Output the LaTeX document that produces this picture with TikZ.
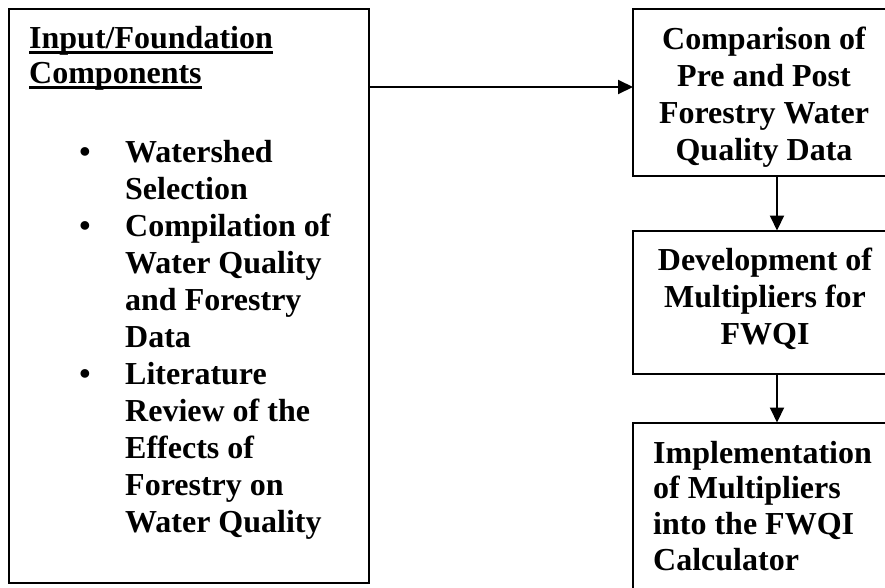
\documentclass[tikz,border=0pt]{standalone}
\usepackage{fontspec}
\setmainfont{Liberation Serif}
\usetikzlibrary{arrows.meta}
\begin{document}
\begin{tikzpicture}[x=1pt,y=-1pt,
  box/.style={draw,line width=2pt,inner sep=0pt,outer sep=0pt,anchor=north west},
  txt/.style={inner sep=0pt,anchor=base west,font=\bfseries\fontsize{32}{37}\selectfont},
  ctxt/.style={inner sep=0pt,anchor=base,font=\bfseries\fontsize{32}{37.3}\selectfont},
  bul/.style={inner sep=0pt,anchor=base,font=\bfseries\fontsize{32}{37}\selectfont},
  uline/.style={line width=2.2pt},
  link/.style={line width=2pt,-{Triangle[length=15pt,width=14pt]}}]
\path[use as bounding box,clip] (0,0) rectangle (885,587);
\fill[white] (0,0) rectangle (885,587);
% boxes
\node[box,minimum width=360pt,minimum height=574.5pt] (left) at (9,8.5) {};
\node[box,minimum width=288pt,minimum height=167.5pt] (b1) at (633,8.5) {};
\node[box,minimum width=288pt,minimum height=143.5pt] (b2) at (633,230.5) {};
\node[box,minimum width=288pt,minimum height=220pt] (b3) at (633,422.5) {};
% left box text
\node[txt] (h1) at (29,48) {Input/Foundation};
\node[txt] (h2) at (29,83) {Components};
\draw[uline] ([yshift=-4.5pt]h1.base west) -- ([yshift=-4.5pt]h1.base east);
\draw[uline] ([yshift=-4.5pt]h2.base west) -- ([yshift=-4.5pt]h2.base east);
\node[bul] (u1) at (85,162) {•};
\node[bul] (u2) at (85,236) {•};
\node[bul] (u3) at (85,384) {•};
\node[txt] (list) at (125,162) {\begin{tabular}[t]{@{}l@{}}Watershed\\Selection\\Compilation of\\Water Quality\\and Forestry\\Data\\Literature\\Review of the\\Effects of\\Forestry on\\Water Quality\end{tabular}};
% right box texts
\node[ctxt] (t1) at (764,49) {\begin{tabular}[t]{@{}c@{}}Comparison of\\Pre and Post\\Forestry Water\\Quality Data\end{tabular}};
\node[ctxt] (t2) at (765,270) {\begin{tabular}[t]{@{}c@{}}Development of\\Multipliers for\\FWQI\end{tabular}};
\node[txt,font=\bfseries\fontsize{32}{35.7}\selectfont] (t3) at (653,463) {\begin{tabular}[t]{@{}l@{}}Implementation\\of Multipliers\\into the FWQI\\Calculator\end{tabular}};
% connectors
\coordinate (a1) at (0,87);
\draw[link] (left.east |- a1) -- (b1.west |- a1);
\draw[link] (b1.south) -- (b2.north);
\draw[link] (b2.south) -- (b3.north);
\end{tikzpicture}
\end{document}
